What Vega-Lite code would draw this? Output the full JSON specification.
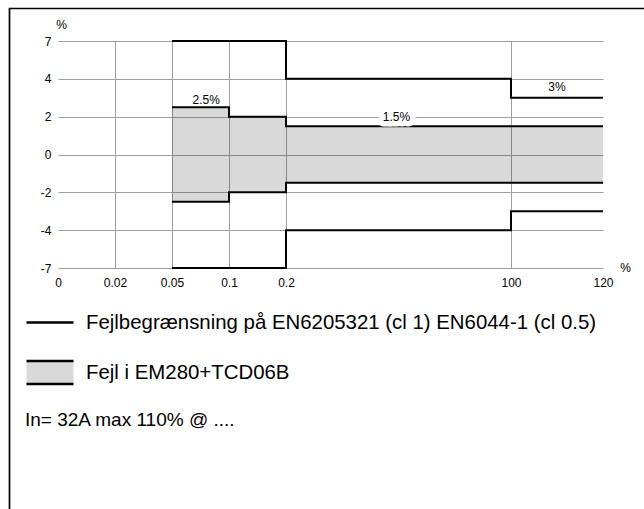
{
  "$schema": "https://vega.github.io/schema/vega-lite/v6.json",
  "width": 545,
  "height": 227,
  "autosize": "none",
  "padding": {"left": 58, "top": 41, "right": 41, "bottom": 241},
  "background": "white",
  "config": {
    "view": {"stroke": null},
    "font": "Liberation Sans",
    "text": {"font": "Liberation Sans"}
  },
  "resolve": {"scale": {"x": "independent", "y": "independent"}},
  "layer": [
    {
      "data": {"values": [{"fx0": 0, "fx1": 1, "fy0": 0, "fy1": 1}]},
      "mark": {"type": "rect", "fill": "transparent", "stroke": "black", "strokeWidth": 1.7, "clip": false},
      "encoding": {
        "x": {"field": "fx0", "type": "quantitative", "scale": {"domain": [0, 1], "range": [-48.5, 640], "nice": false, "zero": false}, "axis": null},
        "x2": {"field": "fx1"},
        "y": {"field": "fy0", "type": "quantitative", "scale": {"domain": [0, 1], "range": [-32.5, 520], "nice": false, "zero": false}, "axis": null},
        "y2": {"field": "fy1"}
      }
    },
    {
      "encoding": {
        "x": {
          "field": "x",
          "type": "quantitative",
          "scale": {"type": "linear", "domain": [0, 0.02, 0.05, 0.1, 0.2, 100, 120], "range": [0, 57, 114, 171, 228, 453, 545], "nice": false, "zero": false},
          "axis": {
            "values": [0, 0.02, 0.05, 0.1, 0.2, 100, 120],
            "labelExpr": "'' + datum.value",
            "domain": false,
            "ticks": false,
            "grid": true,
            "gridColor": "#a0a0a0",
            "gridWidth": 1,
            "gridOpacity": {"condition": {"test": "datum.value === 0 || datum.value === 120", "value": 0}, "value": 1},
            "labelFont": "Liberation Sans",
            "labelFontSize": 12,
            "labelColor": "black",
            "labelPadding": 9,
            "labelFlush": false,
            "labelOverlap": false,
            "labelBound": false,
            "title": "%",
            "titleFont": "Liberation Sans",
            "titleFontSize": 12,
            "titleFontWeight": "normal",
            "titleColor": "black",
            "titleAngle": 0,
            "titleAlign": "center",
            "titleBaseline": "middle",
            "titleX": 567,
            "titleY": -1
          }
        },
        "y": {
          "field": "y",
          "type": "quantitative",
          "scale": {"type": "linear", "domain": [-7, -4, -2, 0, 2, 4, 7], "range": [227, 189.2, 151.3, 113.5, 75.7, 37.8, 0], "nice": false, "zero": false},
          "axis": {
            "values": [-7, -4, -2, 0, 2, 4, 7],
            "labelExpr": "'' + datum.value",
            "domain": false,
            "ticks": false,
            "grid": true,
            "gridColor": "#a0a0a0",
            "gridWidth": 1,
            "labelFont": "Liberation Sans",
            "labelFontSize": 12,
            "labelColor": "black",
            "labelPadding": 7,
            "labelOverlap": false,
            "labelBound": false,
            "title": "%",
            "titleFont": "Liberation Sans",
            "titleFontSize": 12,
            "titleFontWeight": "normal",
            "titleColor": "black",
            "titleAngle": 0,
            "titleAlign": "center",
            "titleBaseline": "middle",
            "titleX": 3,
            "titleY": -17
          }
        }
      },
      "layer": [
        {
          "data": {"values": [
            {"x": 0.05, "y": 2.5, "ylo": -2.5},
            {"x": 0.1, "y": 2, "ylo": -2},
            {"x": 0.2, "y": 1.5, "ylo": -1.5},
            {"x": 120, "y": 1.5, "ylo": -1.5}
          ]},
          "mark": {"type": "area", "interpolate": "step-after", "fill": "#000000", "fillOpacity": 0.15},
          "encoding": {"y2": {"field": "ylo"}}
        },
        {
          "data": {"values": [
            {"series": "Fejlbegrænsning på EN6205321 (cl 1) EN6044-1 (cl 0.5)", "part": "upper", "x": 0.05, "y": 7},
            {"series": "Fejlbegrænsning på EN6205321 (cl 1) EN6044-1 (cl 0.5)", "part": "upper", "x": 0.2, "y": 4},
            {"series": "Fejlbegrænsning på EN6205321 (cl 1) EN6044-1 (cl 0.5)", "part": "upper", "x": 100, "y": 3},
            {"series": "Fejlbegrænsning på EN6205321 (cl 1) EN6044-1 (cl 0.5)", "part": "upper", "x": 120, "y": 3},
            {"series": "Fejlbegrænsning på EN6205321 (cl 1) EN6044-1 (cl 0.5)", "part": "lower", "x": 0.05, "y": -7},
            {"series": "Fejlbegrænsning på EN6205321 (cl 1) EN6044-1 (cl 0.5)", "part": "lower", "x": 0.2, "y": -4},
            {"series": "Fejlbegrænsning på EN6205321 (cl 1) EN6044-1 (cl 0.5)", "part": "lower", "x": 100, "y": -3},
            {"series": "Fejlbegrænsning på EN6205321 (cl 1) EN6044-1 (cl 0.5)", "part": "lower", "x": 120, "y": -3},
            {"series": "Fejl i EM280+TCD06B", "part": "upper", "x": 0.05, "y": 2.5},
            {"series": "Fejl i EM280+TCD06B", "part": "upper", "x": 0.1, "y": 2},
            {"series": "Fejl i EM280+TCD06B", "part": "upper", "x": 0.2, "y": 1.5},
            {"series": "Fejl i EM280+TCD06B", "part": "upper", "x": 120, "y": 1.5},
            {"series": "Fejl i EM280+TCD06B", "part": "lower", "x": 0.05, "y": -2.5},
            {"series": "Fejl i EM280+TCD06B", "part": "lower", "x": 0.1, "y": -2},
            {"series": "Fejl i EM280+TCD06B", "part": "lower", "x": 0.2, "y": -1.5},
            {"series": "Fejl i EM280+TCD06B", "part": "lower", "x": 120, "y": -1.5}
          ]},
          "mark": {"type": "line", "interpolate": "step-after", "strokeWidth": 2, "clip": false},
          "encoding": {
            "detail": {"field": "part", "type": "nominal"},
            "stroke": {
              "field": "series",
              "type": "nominal",
              "scale": {"domain": ["Fejlbegrænsning på EN6205321 (cl 1) EN6044-1 (cl 0.5)", "Fejl i EM280+TCD06B"], "range": ["#000000", "#000000"]},
              "legend": {
                "orient": "none",
                "legendX": -33,
                "legendY": 256.5,
                "title": "In= 32A max 110% @ ....",
                "titleOrient": "bottom",
                "titleAnchor": "start",
                "titleAlign": "left",
                "titleBaseline": "top",
                "titleFont": "Liberation Sans",
                "titleFontSize": 19,
                "titleFontWeight": "normal",
                "titleColor": "black",
                "titleLimit": 0,
                "titlePadding": 21,
                "padding": 0,
                "symbolSize": 2209,
                "symbolStrokeWidth": 2.5,
                "labelFont": "Liberation Sans",
                "labelFontSize": 20.4,
                "labelColor": "black",
                "labelOffset": 11,
                "labelLimit": 0,
                "rowPadding": 14,
                "encode": {
                  "symbols": {
                    "update": {
                      "shape": {"signal": "datum.value === 'Fejl i EM280+TCD06B' ? 'M-1,-0.49H1V0.49H-1Z' : 'M-1,0H1'"},
                      "fill": {"signal": "datum.value === 'Fejl i EM280+TCD06B' ? '#d9d9d9' : 'transparent'"},
                      "fillOpacity": {"value": 1},
                      "strokeDash": {"signal": "datum.value === 'Fejl i EM280+TCD06B' ? [47, 23.03] : [1, 0]"}
                    }
                  }
                }
              }
            }
          }
        },
        {
          "data": {"values": [
            {"x": 0.08, "y": 2.9, "label": "2.5%"},
            {"x": 49.2, "y": 2, "label": "1.5%"},
            {"x": 110, "y": 3.55, "label": "3%"}
          ]},
          "transform": [{"filter": "datum.label === '1.5%'"}],
          "mark": {"type": "text", "fontSize": 12, "stroke": "white", "strokeWidth": 11, "strokeJoin": "round", "fill": "white", "align": "center", "baseline": "middle"},
          "encoding": {"text": {"field": "label"}}
        },
        {
          "data": {"values": [
            {"x": 0.08, "y": 2.9, "label": "2.5%"},
            {"x": 49.2, "y": 2, "label": "1.5%"},
            {"x": 110, "y": 3.55, "label": "3%"}
          ]},
          "mark": {"type": "text", "fontSize": 12, "fill": "black", "align": "center", "baseline": "middle"},
          "encoding": {"text": {"field": "label"}}
        }
      ]
    }
  ]
}
